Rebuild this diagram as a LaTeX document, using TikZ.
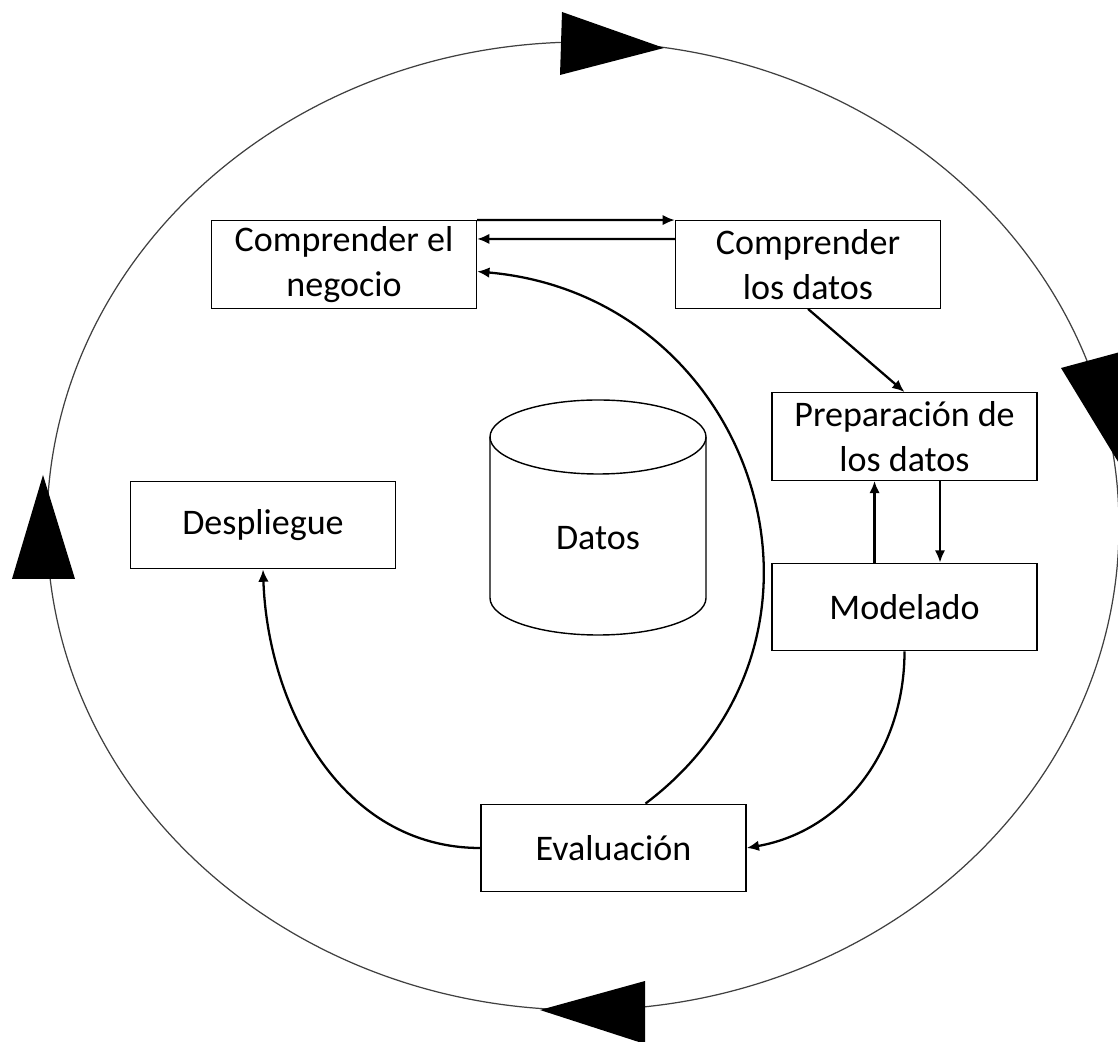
\documentclass[tikz,border=0pt]{standalone}
\usepackage{fontspec}
\setmainfont{Carlito}
\usetikzlibrary{arrows.meta}

\begin{document}
\begin{tikzpicture}[x=0.02cm,y=0.02cm,
    fase/.style={draw,line width=0.8pt,minimum width=5.3cm,minimum height=1.75cm,
      align=center,font=\fontsize{20.5}{25.5}\selectfont},
    flecha/.style={line width=1.3pt,-{Latex[length=7pt,width=6pt]}}]
    \useasboundingbox (0,0) rectangle (1118,1041);
    % Outer cycle
    \draw[line width=0.7pt,black!75] (583,515) ellipse [x radius=536,y radius=484];
    \fill (562,1029) -- (560,966) -- (664,993) -- cycle;
    \fill (1061,673) -- (1135,693) -- (1120,576) -- cycle;
    \fill (540,31) -- (645,60) -- (645,-3) -- cycle;
    \fill (43,566) -- (12,462) -- (75,462) -- cycle;
    % Phases
    \node[fase] (negocio) at (344,776.5) {Comprender el\\negocio};
    \node[fase] (datos) at (808,776.5) {Comprender\\los datos};
    \node[fase] (prep) at (904.5,604.5) {Preparación de\\los datos};
    \node[fase] (modelado) at (904.5,434) {Modelado};
    \node[fase] (eval) at (613.5,193) {Evaluación};
    \node[fase] (despliegue) at (263,516) {Despliegue};
    % Data store
    \draw[line width=0.8pt] (598,604) ellipse [x radius=108,y radius=37];
    \draw[line width=0.8pt] (490,604) -- (490,443) arc[start angle=180,end angle=360,x radius=108,y radius=37] -- (706,604);
    \node[font=\fontsize{20.5}{25.5}\selectfont] (almacen) at (598,503) {Datos};
    % Transitions
    \draw[flecha] (negocio.north east) -- (datos.north west);
    \draw[flecha] ([yshift=-0.38cm]datos.north west) -- ([yshift=-0.38cm]negocio.north east);
    \draw[flecha] (datos.south) -- (prep.north);
    \draw[flecha] ([xshift=-0.6cm]modelado.north) -- ([xshift=-0.6cm]prep.south);
    \draw[flecha] ([xshift=0.71cm]prep.south) -- ([xshift=0.71cm]modelado.north);
    \draw[flecha] (modelado.south) to[out=-90,in=10] (eval.east);
    \draw[flecha] ([xshift=0.64cm]eval.north) to[out=37,in=-5,looseness=1.28] ([yshift=-0.14cm]negocio.east);
    \draw[flecha] (eval.west) to[out=180,in=-88] (despliegue.south);
\end{tikzpicture}
\end{document}
